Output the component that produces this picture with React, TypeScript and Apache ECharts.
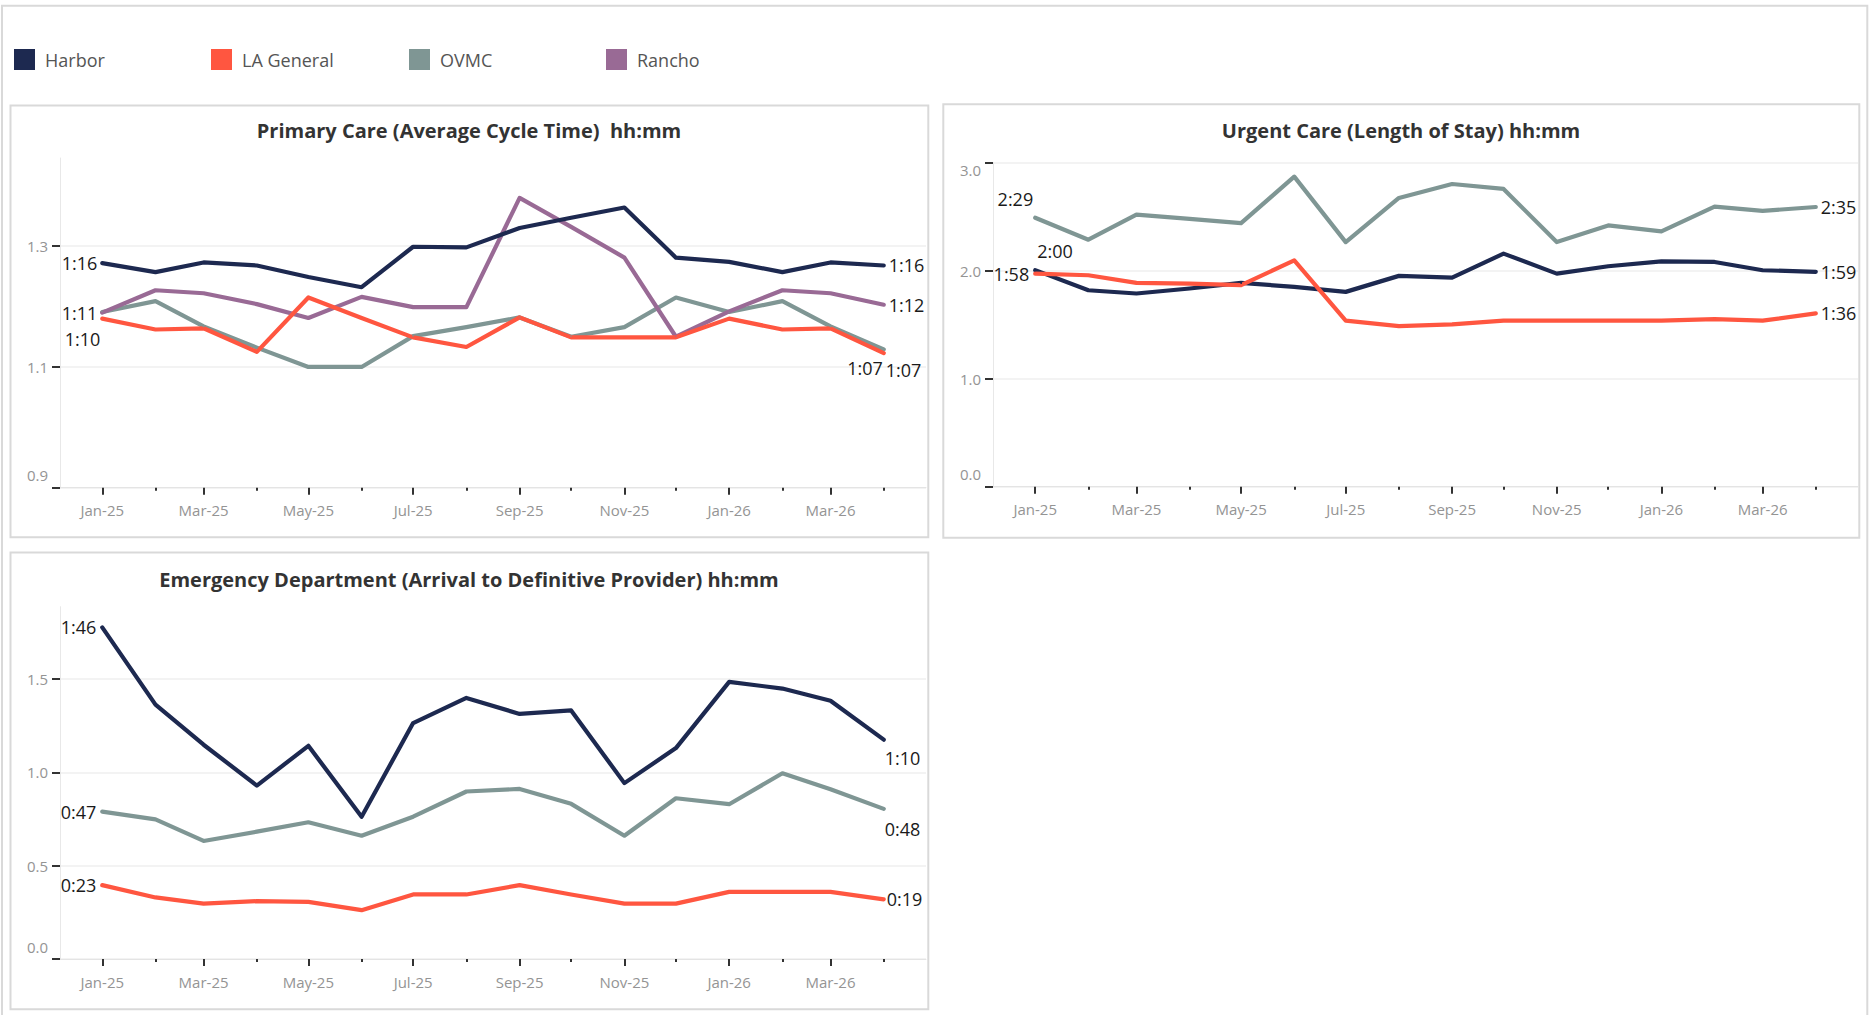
import React, { useEffect, useRef } from 'react';
import * as echarts from 'echarts';

const FONT = "'Open Sans', 'Noto Sans', sans-serif";
const DAY = 86400000;

// ---- categories / tick labels ----
const MONTH_LABELS = ['Jan-25', 'Feb-25', 'Mar-25', 'Apr-25', 'May-25', 'Jun-25', 'Jul-25', 'Aug-25', 'Sep-25', 'Oct-25', 'Nov-25', 'Dec-25', 'Jan-26', 'Feb-26', 'Mar-26', 'Apr-26'];
const MONTH_DATES = ['2025-01-01', '2025-02-01', '2025-03-01', '2025-04-01', '2025-05-01', '2025-06-01', '2025-07-01', '2025-08-01', '2025-09-01', '2025-10-01', '2025-11-01', '2025-12-01', '2026-01-01', '2026-02-01', '2026-03-01', '2026-04-01'];

const SITES = ['Harbor', 'LA General', 'OVMC', 'Rancho'];
const SITE_COLORS: Record<string, string> = {
  Harbor: '#1d2950',
  'LA General': '#ff5640',
  OVMC: '#7f9694',
  Rancho: '#996a95',
};

// ---- Primary Care (Average Cycle Time), hours ----
const PC_HARBOR = [1.272, 1.257, 1.273, 1.268, 1.249, 1.232, 1.299, 1.298, 1.330, 1.347, 1.364, 1.281, 1.274, 1.257, 1.273, 1.268];
const PC_LA_GENERAL = [1.180, 1.162, 1.164, 1.125, 1.215, 1.181, 1.149, 1.133, 1.182, 1.149, 1.149, 1.149, 1.180, 1.162, 1.164, 1.123];
const PC_OVMC = [1.191, 1.209, 1.167, 1.132, 1.100, 1.100, 1.151, 1.166, 1.182, 1.150, 1.166, 1.215, 1.191, 1.209, 1.167, 1.129];
const PC_RANCHO = [1.190, 1.227, 1.222, 1.204, 1.181, 1.216, 1.199, 1.199, 1.380, 1.332, 1.281, 1.150, 1.192, 1.227, 1.222, 1.203];
const PC_TICKS = [0.9, 1.1, 1.3];

// ---- Urgent Care (Length of Stay), hours ----
const UC_HARBOR = [2.005, 1.819, 1.789, 1.835, 1.887, 1.850, 1.804, 1.952, 1.936, 2.158, 1.973, 2.041, 2.087, 2.081, 2.004, 1.990];
const UC_LA_GENERAL = [1.972, 1.958, 1.887, 1.881, 1.866, 2.096, 1.537, 1.487, 1.503, 1.537, 1.537, 1.537, 1.537, 1.552, 1.537, 1.605];
const UC_OVMC = [2.490, 2.287, 2.520, 2.480, 2.440, 2.871, 2.265, 2.674, 2.803, 2.757, 2.265, 2.419, 2.364, 2.594, 2.554, 2.590];
const UC_TICKS = [0, 1, 2, 3];

// ---- Emergency Department (Arrival to Definitive Provider), hours ----
const ED_HARBOR = [1.778, 1.364, 1.149, 0.930, 1.143, 0.763, 1.265, 1.400, 1.314, 1.333, 0.943, 1.131, 1.486, 1.450, 1.385, 1.176];
const ED_LA_GENERAL = [0.396, 0.330, 0.297, 0.310, 0.306, 0.262, 0.346, 0.346, 0.396, 0.346, 0.297, 0.297, 0.360, 0.360, 0.360, 0.320];
const ED_OVMC = [0.790, 0.749, 0.633, 0.683, 0.733, 0.661, 0.763, 0.898, 0.912, 0.832, 0.661, 0.862, 0.830, 0.996, 0.910, 0.805];
const ED_TICKS = [0, 0.5, 1, 1.5];

const toUTC = (s: string) => {
  const [y, m, d] = s.split('-').map(Number);
  return Date.UTC(y, m - 1, d);
};
const MONTH_TS = MONTH_DATES.map(toUTC);
const MAJOR_TS = MONTH_TS.filter((_, i) => i % 2 === 0);
const MINOR_TS = MONTH_TS.filter((_, i) => i % 2 === 1);
const X_MIN = MONTH_TS[0] - 24.6 * DAY;
const X_MAX = MONTH_TS[MONTH_TS.length - 1] + 24.6 * DAY;

const fmtHM = (p: any) => {
  const v = Array.isArray(p.value) ? p.value[1] : p.value;
  const m = Math.floor(v * 60 + 1e-9);
  return `${Math.floor(m / 60)}:${String(m % 60).padStart(2, '0')}`;
};

type LabelSpec = { position: string; distance?: number; offset?: number[] } | null;
type SeriesDef = { name: string; values: number[]; start: LabelSpec; end: LabelSpec };

const PANELS: {
  title: string;
  titleX: number;
  titleY: number;
  grid: { left: number; top: number; width: number; height: number };
  yMin: number;
  yMax: number;
  yTicks: number[];
  maxAlign: string;
  series: SeriesDef[];
}[] = [
  {
    title: 'Primary Care (Average Cycle Time)  hh:mm',
    titleX: 469,
    titleY: 130,
    grid: { left: 60, top: 158, width: 866, height: 329.7 },
    yMin: 0.9,
    yMax: 1.446,
    yTicks: PC_TICKS,
    maxAlign: 'middle',
    series: [
      { name: 'OVMC', values: PC_OVMC, start: null, end: { position: 'right', distance: 1, offset: [0, 21] } },
      { name: 'Rancho', values: PC_RANCHO, start: { position: 'left', distance: 4 }, end: { position: 'right', distance: 4 } },
      { name: 'Harbor', values: PC_HARBOR, start: { position: 'left', distance: 4 }, end: { position: 'right', distance: 4 } },
      { name: 'LA General', values: PC_LA_GENERAL, start: { position: 'left', distance: 1, offset: [0, 20] }, end: { position: 'left', distance: 0, offset: [0, 15] } },
    ],
  },
  {
    title: 'Urgent Care (Length of Stay) hh:mm',
    titleX: 1401,
    titleY: 130,
    grid: { left: 993, top: 162.7, width: 865, height: 324 },
    yMin: 0,
    yMax: 3,
    yTicks: UC_TICKS,
    maxAlign: 'top',
    series: [
      { name: 'OVMC', values: UC_OVMC, start: { position: 'left', distance: 1, offset: [0, -19] }, end: { position: 'right', distance: 4 } },
      { name: 'Harbor', values: UC_HARBOR, start: { position: 'right', distance: 1, offset: [0, -19] }, end: { position: 'right', distance: 4 } },
      { name: 'LA General', values: UC_LA_GENERAL, start: { position: 'left', distance: 5 }, end: { position: 'right', distance: 4 } },
    ],
  },
  {
    title: 'Emergency Department (Arrival to Definitive Provider) hh:mm',
    titleX: 469,
    titleY: 579,
    grid: { left: 60, top: 606.7, width: 866, height: 352.3 },
    yMin: 0,
    yMax: 1.889,
    yTicks: ED_TICKS,
    maxAlign: 'middle',
    series: [
      { name: 'OVMC', values: ED_OVMC, start: { position: 'left', distance: 5 }, end: { position: 'right', distance: 0, offset: [0, 20] } },
      { name: 'Harbor', values: ED_HARBOR, start: { position: 'left', distance: 5 }, end: { position: 'right', distance: 0, offset: [0, 18] } },
      { name: 'LA General', values: ED_LA_GENERAL, start: { position: 'left', distance: 5 }, end: { position: 'right', distance: 2 } },
    ],
  },
];

const LEGEND_X = [14, 211, 409, 606];

function buildOption() {
  const grid: any[] = [];
  const xAxis: any[] = [];
  const yAxis: any[] = [];
  const series: any[] = [];
  const title: any[] = [];

  const labelStyle = { fontSize: 18, color: '#1a1a1a', fontFamily: FONT };
  const tickText = { fontSize: 15, color: '#949494', fontFamily: FONT };

  PANELS.forEach((p, i) => {
    grid.push({ ...p.grid, containLabel: false, outerBoundsMode: 'none' });
    title.push({
      text: p.title,
      left: p.titleX,
      top: p.titleY,
      textAlign: 'center',
      textVerticalAlign: 'middle',
      padding: 0,
      textStyle: { fontSize: 20, fontWeight: 'bold', color: '#333', fontFamily: FONT },
    });
    xAxis.push({
      type: 'value',
      gridIndex: i,
      position: 'bottom',
      min: X_MIN,
      max: X_MAX,
      scale: true,
      axisLine: { show: true, onZero: false, lineStyle: { color: '#e4e4e4', width: 1 } },
      axisTick: { show: true, customValues: MAJOR_TS, length: 7, lineStyle: { color: '#333', width: 2 } },
      axisLabel: {
        show: true,
        customValues: MAJOR_TS,
        formatter: (v: number) => {
          const k = MONTH_TS.indexOf(v);
          return k >= 0 ? MONTH_LABELS[k] : '';
        },
        ...tickText,
        margin: 15,
      },
      splitLine: { show: false },
      minorTick: { show: false },
    });
    xAxis.push({
      type: 'value',
      gridIndex: i,
      position: 'bottom',
      min: X_MIN,
      max: X_MAX,
      scale: true,
      axisLine: { show: false, onZero: false },
      axisTick: { show: true, customValues: MINOR_TS, length: 3, lineStyle: { color: '#333', width: 2 } },
      axisLabel: { show: false },
      splitLine: { show: false },
    });
    yAxis.push({
      type: 'value',
      gridIndex: i,
      min: p.yMin,
      max: p.yMax,
      axisLine: { show: true, lineStyle: { color: '#e8e8e8', width: 1 } },
      axisTick: { show: true, inside: false, customValues: p.yTicks, length: 8, lineStyle: { color: '#333', width: 2 } },
      axisLabel: {
        show: true,
        customValues: p.yTicks,
        formatter: (v: number) => (Math.abs(v - p.yMin) < 1e-9 ? `{lo|${v.toFixed(1)}}` : v.toFixed(1)),
        rich: { lo: { ...tickText, padding: [0, 0, 5, 0] } },
        ...tickText,
        margin: 12,
        verticalAlignMinLabel: 'bottom',
        verticalAlignMaxLabel: p.maxAlign,
      },
      splitLine: { show: true, lineStyle: { color: '#efefef', width: 1.5 } },
    });

    p.series.forEach((s) => {
      const color = SITE_COLORS[s.name];
      const n = s.values.length;
      const data = s.values.map((v, k) => {
        const item: any = { value: [MONTH_TS[k], v] };
        const spec = k === 0 ? s.start : k === n - 1 ? s.end : null;
        if (spec) {
          item.label = {
            show: true,
            position: spec.position,
            distance: spec.distance ?? 4,
            offset: spec.offset ?? [0, 0],
            formatter: fmtHM,
            ...labelStyle,
          };
        }
        return item;
      });
      series.push({
        type: 'line',
        name: s.name,
        xAxisIndex: i * 2,
        yAxisIndex: i,
        data,
        symbol: 'circle',
        symbolSize: 2,
        showSymbol: true,
        showAllSymbol: true,
        lineStyle: { color, width: 4.2, cap: 'round', join: 'round' },
        itemStyle: { color, borderWidth: 0 },
        label: { show: false },
        emphasis: { disabled: true },
        silent: true,
      });
    });
  });

  const legend = SITES.map((name, k) => ({
    data: [name],
    left: LEGEND_X[k],
    top: 49,
    padding: 0,
    itemWidth: 21,
    itemHeight: 21,
    icon: 'rect',
    selectedMode: false,
    itemStyle: { borderWidth: 0 },
    textStyle: { fontSize: 18, color: '#555', fontFamily: FONT, padding: [0, 0, 0, 5] },
  }));

  const border = (x: number, y: number, w: number, h: number) => ({
    type: 'rect',
    silent: true,
    shape: { x, y, width: w, height: h },
    style: { fill: 'none', stroke: '#d9d9d9', lineWidth: 2 },
  });

  return {
    animation: false,
    backgroundColor: '#ffffff',
    title,
    legend,
    grid,
    xAxis,
    yAxis,
    series,
    graphic: [
      border(2, 5.7, 1865.3, 1040),
      border(10.5, 105.5, 917.8, 431.8),
      border(943.3, 104.3, 916, 433.4),
      border(10.5, 552.5, 917.8, 456.8),
    ],
  };
}

export default function App() {
  const ref = useRef<HTMLDivElement>(null);
  useEffect(() => {
    if (!ref.current) return;
    const chart = echarts.init(ref.current, undefined, { renderer: 'svg' });
    chart.setOption(buildOption() as any);
    return () => chart.dispose();
  }, []);
  return (
    <div
      ref={ref}
      style={{ position: 'absolute', left: 0, top: 0, width: 1871, height: 1015, background: '#fff' }}
    />
  );
}
